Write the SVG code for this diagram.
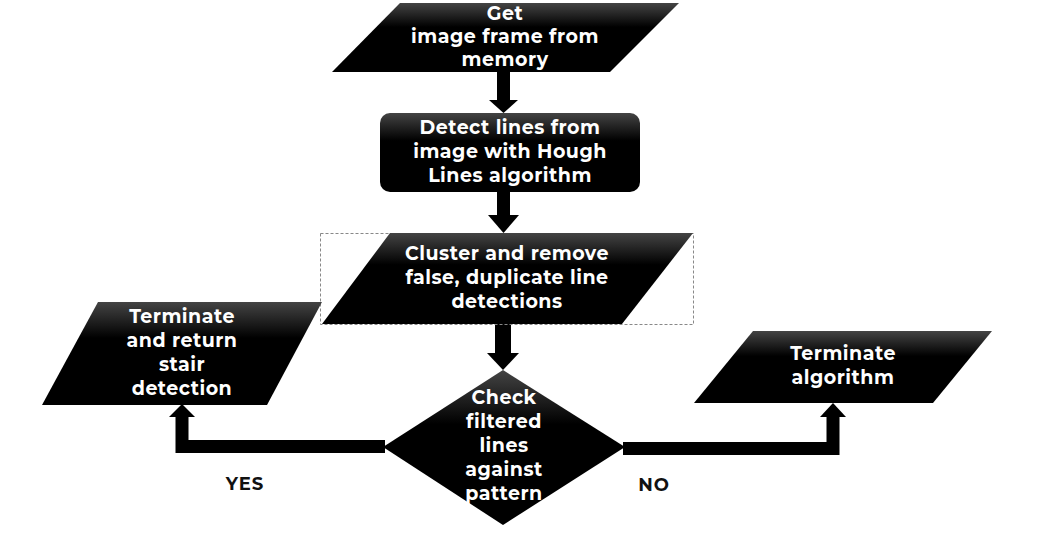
<svg xmlns="http://www.w3.org/2000/svg" width="1042" height="536" viewBox="0 0 1042 536">
<defs>
<linearGradient id="g" x1="0" y1="0" x2="0" y2="1">
<stop offset="0" stop-color="#444"/>
<stop offset="0.35" stop-color="#000"/>
<stop offset="1" stop-color="#000"/>
</linearGradient>
</defs>
<style>
.shape{fill:url(#g);}
.t{font-family:"Montserrat","Open Sans","Liberation Sans",sans-serif;font-weight:700;font-size:19px;letter-spacing:0.5px;fill:#fff;text-anchor:middle;}
.lbl{font-family:"Montserrat","Open Sans","Liberation Sans",sans-serif;font-weight:700;font-size:18px;letter-spacing:1px;fill:#111;text-anchor:middle;}
.conn{fill:none;stroke:#000;stroke-width:13;stroke-linejoin:miter;}
.head{fill:#000;}
</style>
<g id="connectors">
<rect x="497" y="72" width="13" height="29" class="head"/>
<polygon points="489,100 518,100 503.5,113" class="head"/>
<rect x="497" y="192" width="13" height="24" class="head"/>
<polygon points="488,215 519,215 503.5,233" class="head"/>
<rect x="495" y="324" width="16" height="30" class="head"/>
<polygon points="487,353 519,353 503,370" class="head"/>
<path d="M385,446.5 H182 V416" class="conn"/>
<polygon points="169,417 195,417 182,404" class="head"/>
<path d="M623,448.5 H833 V416" class="conn"/>
<polygon points="820,417 846,417 833,403" class="head"/>
</g>
<g id="n1">
<polygon points="400,3 679,3 610,72 332,72" class="shape"/>
<text class="t" x="505" y="20">Get</text>
<text class="t" x="505" y="43">image frame from</text>
<text class="t" x="505" y="66">memory</text>
</g>
<g id="n2">
<rect x="380" y="113" width="260" height="79" rx="10" class="shape"/>
<text class="t" x="510" y="134">Detect lines from</text>
<text class="t" x="510" y="158">image with Hough</text>
<text class="t" x="510" y="182">Lines algorithm</text>
</g>
<g id="n3">
<rect x="320.5" y="233.5" width="373" height="91" fill="none" stroke="#888" stroke-width="1" stroke-dasharray="3,2"/>
<polygon points="390,233 693,233 622,324 322,324" class="shape"/>
<text class="t" x="507" y="260">Cluster and remove</text>
<text class="t" x="507" y="284">false, duplicate line</text>
<text class="t" x="507" y="308">detections</text>
</g>
<g id="n4">
<polygon points="503,370 625,447 503,525 383,447" class="shape"/>
<text class="t" x="504" y="404">Check</text>
<text class="t" x="504" y="428">filtered</text>
<text class="t" x="504" y="452">lines</text>
<text class="t" x="504" y="476">against</text>
<text class="t" x="504" y="500">pattern</text>
</g>
<g id="n5">
<polygon points="98,302 322,302 267,405 42,405" class="shape"/>
<text class="t" x="182" y="323">Terminate</text>
<text class="t" x="182" y="347">and return</text>
<text class="t" x="182" y="371">stair</text>
<text class="t" x="182" y="395">detection</text>
</g>
<g id="n6">
<polygon points="753,331 992,331 933,403 694,403" class="shape"/>
<text class="t" x="843" y="360">Terminate</text>
<text class="t" x="843" y="384">algorithm</text>
</g>
<g id="labels">
<text class="lbl" x="245" y="490">YES</text>
<text class="lbl" x="654" y="491">NO</text>
</g>
</svg>
